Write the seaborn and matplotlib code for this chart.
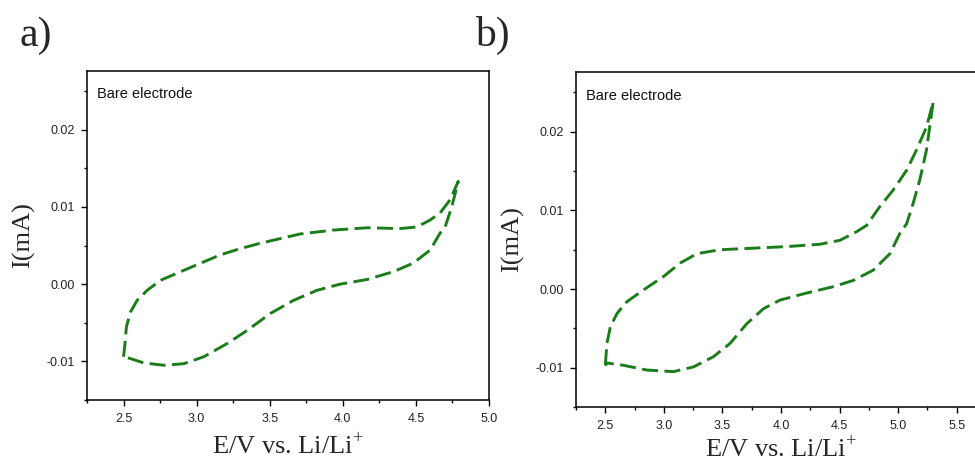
import numpy as np
import pandas as pd
import matplotlib
matplotlib.use("Agg")
import matplotlib.pyplot as plt
from matplotlib.ticker import MultipleLocator, FormatStrFormatter
import seaborn as sns

# a) bare electrode, 2.5 - 4.8 V loop (forward sweep then return)
left_x = [2.50, 2.51, 2.52, 2.548, 2.593, 2.662, 2.753, 2.889, 3.026, 3.163, 3.299,
          3.436, 3.572, 3.709, 3.935, 4.165, 4.392, 4.506, 4.597, 4.665, 4.733, 4.79,
          4.745, 4.70, 4.665, 4.597, 4.48, 4.344, 4.165, 3.982, 3.823, 3.663, 3.504,
          3.345, 3.208, 3.049, 2.912, 2.775, 2.639, 2.525, 2.50]
left_y = [-0.0094, -0.0077, -0.0055, -0.0036, -0.0021, -0.0008, 0.0005, 0.0016, 0.0027,
          0.0038, 0.0046, 0.0053, 0.0059, 0.0065, 0.0070, 0.0073, 0.0072, 0.0074, 0.0083,
          0.0092, 0.0109, 0.0133, 0.0100, 0.0074, 0.0066, 0.0044, 0.0027, 0.0016, 0.0006,
          0.0000, -0.0008, -0.0021, -0.0038, -0.0060, -0.0077, -0.0094, -0.0103, -0.0105,
          -0.0102, -0.0095, -0.0094]

# b) bare electrode, 2.5 - 5.3 V loop
right_x = [2.50, 2.514, 2.543, 2.60, 2.685, 2.827, 2.997, 3.139, 3.282, 3.48, 3.764,
           4.049, 4.333, 4.503, 4.646, 4.731, 4.844, 4.958, 5.072, 5.157, 5.242, 5.299,
           5.285, 5.242, 5.185, 5.128, 5.072, 5.015, 4.93, 4.787, 4.617, 4.446, 4.22,
           3.992, 3.85, 3.708, 3.566, 3.423, 3.253, 3.082, 2.855, 2.656, 2.514, 2.50]
right_y = [-0.0097, -0.0069, -0.0048, -0.0031, -0.0016, -0.0001, 0.0016, 0.0033, 0.0045,
           0.0050, 0.0052, 0.0054, 0.0057, 0.0062, 0.0073, 0.0081, 0.0105, 0.0126, 0.0151,
           0.0177, 0.0206, 0.0238, 0.0223, 0.0177, 0.0139, 0.0109, 0.0083, 0.0071, 0.0045,
           0.0024, 0.0011, 0.0003, -0.0005, -0.0014, -0.0025, -0.0044, -0.0069, -0.0086,
           -0.0099, -0.0105, -0.0103, -0.0097, -0.0094, -0.0097]

panel_tags = ["a)", "b)"]
note = "Bare electrode"
xlabel = "E/V vs. Li/Li$^{+}$"
ylabel = "I(mA)"

sns.set_style("ticks")
plt.rcParams["font.family"] = ["Liberation Sans", "DejaVu Sans"]
plt.rcParams["axes.unicode_minus"] = False
plt.rcParams["mathtext.fontset"] = "custom"
plt.rcParams["mathtext.rm"] = "Liberation Serif"

line_color = "#1a7d1a"
serif = ["Liberation Serif", "DejaVu Serif"]

fig = plt.figure(figsize=(9.75, 4.61), dpi=100)
ax_a = fig.add_axes([0.0892, 0.1323, 0.4123, 0.7137])
ax_b = fig.add_axes([0.5908, 0.1171, 0.4205, 0.7267])

panels = [
    (ax_a, left_x, left_y, (2.25, 5.0), 6),
    (ax_b, right_x, right_y, (2.25, 5.75), 3),
]

for ax, xs, ys, xlim, xpad in panels:
    df = pd.DataFrame({"E": xs, "I": ys})
    sns.lineplot(data=df, x="E", y="I", sort=False, estimator=None, ax=ax,
                 color=line_color, linewidth=2.1)
    ax.lines[0].set_dashes((5.5, 2.2))
    ax.set_xlim(*xlim)
    ax.set_ylim(-0.015, 0.0276)
    ax.xaxis.set_major_locator(MultipleLocator(0.5))
    ax.xaxis.set_minor_locator(MultipleLocator(0.25))
    ax.yaxis.set_major_locator(MultipleLocator(0.01))
    ax.yaxis.set_minor_locator(MultipleLocator(0.005))
    ax.xaxis.set_major_formatter(FormatStrFormatter("%.1f"))
    ax.yaxis.set_major_formatter(FormatStrFormatter("%.2f"))
    ax.tick_params(which="both", direction="out", top=False, right=False,
                   color="black", width=1.0)
    ax.tick_params(which="major", length=4, labelsize=9, pad=5, labelcolor="#222222")
    ax.tick_params(which="minor", length=2.5)
    for s in ax.spines.values():
        s.set_visible(True)
        s.set_color("black")
        s.set_linewidth(1.1)
    ax.set_xlabel(xlabel, fontsize=19, family=serif, labelpad=xpad)
    ax.set_ylabel(ylabel, fontsize=19, family=serif, labelpad=8)
    ax.text(0.025, 0.95, note, transform=ax.transAxes, ha="left", va="top",
            fontsize=10.5, color="#111111")

fig.text(0.020, 0.90, panel_tags[0], fontsize=30, family=serif, ha="left", va="baseline")
fig.text(0.487, 0.90, panel_tags[1], fontsize=30, family=serif, ha="left", va="baseline")

fig.savefig("out.png", dpi=100)
